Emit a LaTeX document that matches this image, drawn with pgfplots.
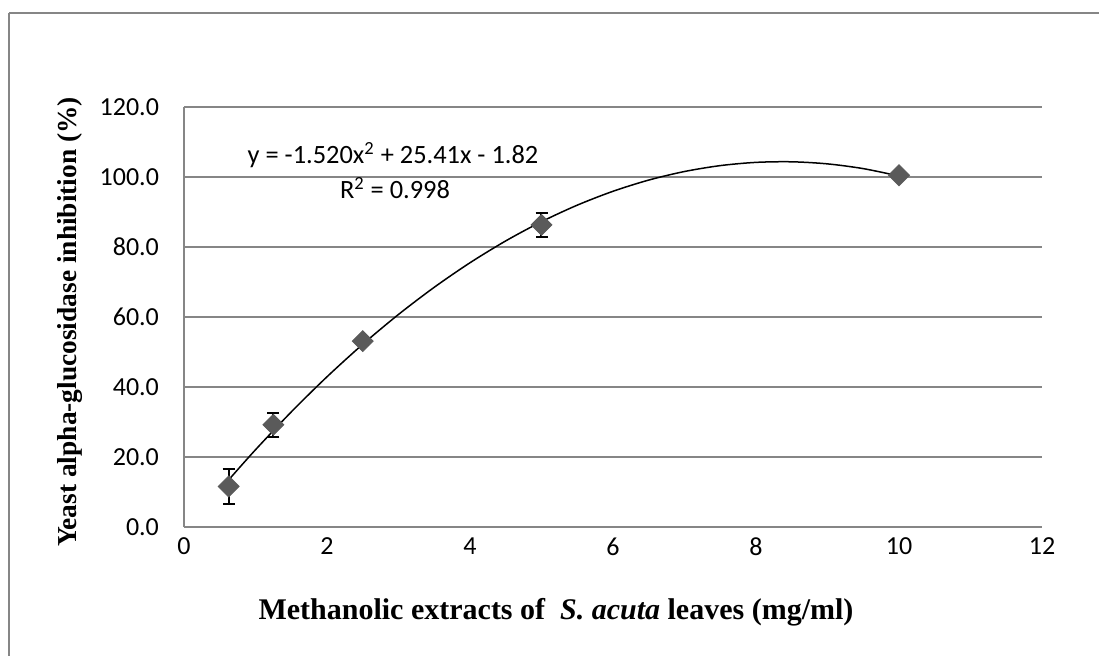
\documentclass[border=0pt]{standalone}
\usepackage{fontspec}
\setmainfont{Carlito}
\newfontfamily\timesfont{Liberation Serif}
\usepackage{pgfplots}
\pgfplotsset{compat=1.18}
\definecolor{gridgray}{HTML}{868686}
\definecolor{markgray}{HTML}{5A5A5A}
\begin{document}
\begin{tikzpicture}[x=1pt,y=1pt]
\useasboundingbox (-92,-64) rectangle (457.5,263.5);
\draw[gridgray, line width=1pt] (-87.5,257) -- (470,257);
\draw[gridgray, line width=1pt] (-87.5,257) -- (-87.5,-80);
\begin{axis}[
  at={(0,0)}, anchor=south west,
  scale only axis, width=429pt, height=210pt,
  xmin=0, xmax=12, ymin=0, ymax=120,
  xtick={0,2,...,12}, ytick={0,20,...,120},
  axis x line*=bottom, axis y line*=left,
  axis line style={gridgray, line width=0.75pt},
  ymajorgrids, grid style={gridgray, line width=0.75pt},
  major tick length=0pt,
  tick label style={font=\fontsize{13}{15}\selectfont},
  /pgf/number format/assume math mode=true,
  yticklabel style={/pgf/number format/fixed, /pgf/number format/fixed zerofill, /pgf/number format/precision=1, xshift=-9pt},
  xticklabel style={yshift=-2pt},
  clip=false,
]
\addplot[black, line width=0.75pt, smooth, no markers] coordinates {
(0.625,13.47) (1,22.07) (1.5,32.875) (2,42.92) (2.5,52.205) (3,60.73) (3.5,68.495)
(4,75.5) (4.5,81.745) (5,87.23) (5.5,91.955) (6,95.92) (6.5,99.125) (7,101.57)
(7.5,103.255) (8,104.18) (8.5,104.345) (9,103.75) (9.5,102.395) (10,100.28)};
\addplot[only marks, mark=square*, mark size=3.7pt,
  mark options={rotate=45, fill=markgray, draw=markgray},
  error bars/.cd, y dir=both, y explicit,
  error bar style={black, line width=1pt},
  error mark options={rotate=90, black, mark size=3pt, line width=1pt}]
coordinates {
(0.625,11.6) +- (0,4.9)
(1.25,29.2) +- (0,3.5)
(2.5,53.1) +- (0,1.0)
(5,86.3) +- (0,3.3)
(10,100.5) +- (0,0.4)
};
\end{axis}
\node[font=\fontsize{13.2}{15}\selectfont] at (104.5,186) {y = -1.520x\textsuperscript{2} + 25.41x - 1.82};
\node[font=\fontsize{13.2}{15}\selectfont] at (105.5,169.5) {R\textsuperscript{2} = 0.998};
\node[font=\timesfont\bfseries\fontsize{15}{17}\selectfont] at (186,-42.5) {Methanolic extracts of \ \textit{S. acuta} leaves (mg/ml)};
\node[font=\timesfont\bfseries\fontsize{13.7}{15}\selectfont, rotate=90] at (-57,102.5) {Yeast alpha-glucosidase inhibition (\%)};
\end{tikzpicture}
\end{document}
